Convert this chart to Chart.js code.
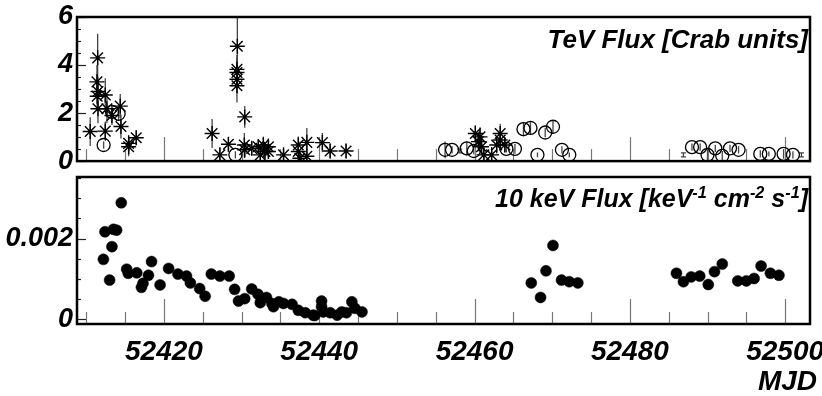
<!DOCTYPE html>
<html lang="en">
<head>
<meta charset="UTF-8">
<title>TeV and 10 keV flux vs MJD</title>
<script src="https://cdn.jsdelivr.net/npm/chart.js"></script>
<style>
  body { margin: 0; background: #fff; width: 822px; height: 396px; position: relative; overflow: hidden;
         font-family: "Liberation Sans", Arial, sans-serif; }
  .box { position: absolute; left: 0; width: 822px; }
  #topBox { top: 0; height: 170px; }
  #botBox { top: 170px; height: 226px; }
  .lbl { position: absolute; font-weight: bold; font-style: italic; white-space: nowrap; line-height: 1; color: #000; }
  .lbl sup { font-size: 65%; vertical-align: 0.55em; line-height: 0; }
</style>
</head>
<body>
<div class="box" id="topBox"><canvas id="tevChart"></canvas></div>
<div class="box" id="botBox"><canvas id="xrayChart"></canvas></div>
<div class="lbl" style="right:14px; top:26px; font-size:26px;">TeV Flux [Crab units]</div>
<div class="lbl" style="right:14px; top:186px; font-size:25px;">10 keV Flux [keV<sup>-1</sup> cm<sup>-2</sup> s<sup>-1</sup>]</div>
<div class="lbl" style="right:5px; top:367px; font-size:28px;">MJD</div>

<script>
// axis labels
const mjdLabels = [52420, 52440, 52460, 52480, 52500];
const tevLabels = [0, 2, 4, 6];
const xrayLabels = [0, 0.002];

// TeV flux, asterisks
const tevStarMjd = [52410.5, 52411.46, 52411.37, 52411.5, 52411.4, 52412.44, 52411.5, 52412.65, 52413.3, 52412.44, 52414.37, 52414.46, 52415.45, 52415.45, 52416.43,
  52426.2, 52427.2, 52428.3, 52429.45, 52429.4, 52429.4, 52429.4, 52429.4, 52430.4, 52430.35, 52430.4, 52431.3, 52432.15, 52432.8, 52433.0, 52433.45, 52433.45, 52432.4, 52435.4,
  52437.3, 52437.3, 52438.4, 52438.4, 52437.5, 52440.4, 52441.4, 52443.45,
  52460.1, 52460.7, 52460.5, 52460.9, 52461.2, 52462.2, 52463.3, 52463.3, 52462.85, 52463.9];
const tevStarFlux = [1.23, 4.3, 3.3, 2.9, 2.7, 2.75, 2.18, 2.18, 1.9, 1.25, 2.29, 1.44, 0.74, 0.6, 0.97,
  1.15, 0.26, 0.7, 4.78, 3.82, 3.69, 3.41, 3.14, 1.84, 0.67, 0.47, 0.53, 0.6, 0.67, 0.4, 0.4, 0.6, 0.26, 0.26,
  0.67, 0.4, 0.78, 0.2, 0.12, 0.77, 0.42, 0.42,
  1.15, 1.01, 0.81, 0.6, 0.26, 0.26, 1.15, 0.88, 0.67, 0.67];
const tevStarErr = [0.6, 1.0, 0.7, 0.6, 0.5, 0.7, 0.6, 0.6, 0.4, 0.4, 0.5, 0.5, 0.35, 0.4, 0.3,
  0.6, 0.3, 0.3, 1.5, 0.6, 0.6, 0.6, 0.7, 0.45, 0.5, 0.35, 0.3, 0.3, 0.35, 0.3, 0.3, 0.35, 0.3, 0.25,
  0.35, 0.3, 0.6, 0.2, 0.15, 0.4, 0.3, 0.3,
  0.35, 0.4, 0.4, 0.35, 0.3, 0.3, 0.4, 0.35, 0.35, 0.3];

// TeV flux, open circles
const tevCircleMjd = [52412.23, 52413.3, 52414.16, 52429.2, 52456.2, 52457.1, 52459.0, 52459.9, 52464.1, 52465.2,
  52466.3, 52467.2, 52468.1, 52469.1, 52470.1, 52471.25, 52472.2,
  52488.0, 52489.05, 52490.0, 52491.0, 52491.9, 52492.9, 52494.0, 52496.8, 52497.9, 52499.8, 52501.0];
const tevCircleFlux = [0.67, 2.05, 1.97, 0.26, 0.47, 0.47, 0.53, 0.42, 0.51, 0.51,
  1.33, 1.38, 0.26, 1.19, 1.43, 0.47, 0.26,
  0.58, 0.58, 0.26, 0.53, 0.22, 0.53, 0.47, 0.3, 0.3, 0.3, 0.26];
const tevCircleErr = [0.15, 0.3, 0.3, 0.15, 0.35, 0.15, 0.3, 0.15, 0.15, 0.2,
  0.3, 0.25, 0.1, 0.2, 0.25, 0.15, 0.1,
  0.15, 0.15, 0.25, 0.15, 0.2, 0.15, 0.15, 0.15, 0.1, 0.2, 0.15];

// TeV flux, points shown only by their error bar
const tevBarMjd = [52458.1, 52486.9, 52502.1];
const tevBarFlux = [0.42, 0.26, 0.26];
const tevBarErr = [0.08, 0.08, 0.08];

// 10 keV flux
const xrayMjd = [52412.2, 52412.4, 52413.0, 52413.3, 52413.5, 52413.9, 52414.5, 52415.2, 52415.4, 52416.5,
  52417.1, 52417.3, 52418.0, 52418.4, 52419.5, 52420.6, 52421.8, 52422.9, 52423.4, 52424.6,
  52425.3, 52426.1, 52427.2, 52428.4, 52429.1, 52429.6, 52430.4, 52431.3, 52432.1, 52432.4,
  52433.2, 52433.9, 52434.1, 52434.8, 52435.4, 52436.5, 52437.3, 52438.2, 52439.2, 52439.4,
  52440.3, 52440.3, 52440.5, 52441.4, 52442.3, 52442.9, 52443.5, 52444.2, 52444.6, 52445.5,
  52467.3, 52468.5, 52469.2, 52470.1, 52471.2, 52472.2, 52473.3,
  52486.0, 52486.9, 52487.9, 52489.0, 52490.1, 52490.9, 52491.9, 52493.9, 52495.0, 52496.0, 52496.9, 52498.1, 52499.2];
const xrayFlux = [1.485e-3, 2.17e-3, 0.97e-3, 1.80e-3, 2.23e-3, 2.21e-3, 2.89e-3, 1.24e-3, 1.14e-3, 1.15e-3,
  0.79e-3, 0.89e-3, 1.09e-3, 1.43e-3, 0.85e-3, 1.26e-3, 1.12e-3, 1.07e-3, 0.90e-3, 0.76e-3,
  0.57e-3, 1.12e-3, 1.07e-3, 1.07e-3, 0.74e-3, 0.45e-3, 0.51e-3, 0.75e-3, 0.62e-3, 0.41e-3,
  0.54e-3, 0.39e-3, 0.31e-3, 0.43e-3, 0.39e-3, 0.37e-3, 0.22e-3, 0.16e-3, 0.10e-3, 0.09e-3,
  0.45e-3, 0.31e-3, 0.18e-3, 0.16e-3, 0.10e-3, 0.18e-3, 0.16e-3, 0.43e-3, 0.27e-3, 0.18e-3,
  0.90e-3, 0.54e-3, 1.20e-3, 1.83e-3, 0.97e-3, 0.93e-3, 0.90e-3,
  1.14e-3, 0.93e-3, 1.05e-3, 1.07e-3, 0.86e-3, 1.18e-3, 1.37e-3, 0.95e-3, 0.95e-3, 1.01e-3, 1.32e-3, 1.14e-3, 1.09e-3];

const MJD_MIN = 52408.8, MJD_MAX = 52503.2;

function pts(xs, ys) { return xs.map((x, i) => ({ x: x, y: ys[i] })); }
function isMult(v, step) { const r = v / step; return Math.abs(r - Math.round(r)) < 1e-6; }

const labelFont = { family: 'Liberation Sans', style: 'italic', weight: 'bold', size: 27 };

// frame, inner ticks and error bars (ROOT-style panel)
function panel(cfg) {
  return {
    id: 'panel',
    beforeDatasetsDraw(chart) {
      const { ctx, chartArea: a, scales: { x, y } } = chart;
      ctx.save();
      ctx.beginPath();
      ctx.rect(a.left, a.top, a.right - a.left, a.bottom - a.top);
      ctx.clip();
      chart.data.datasets.forEach(ds => {
        if (!ds.errs) return;
        ctx.strokeStyle = '#444';
        ctx.lineWidth = 1.3;
        ds.data.forEach((p, i) => {
          const px = x.getPixelForValue(p.x);
          const y1 = y.getPixelForValue(p.y - ds.errs[i]);
          const y2 = y.getPixelForValue(p.y + ds.errs[i]);
          ctx.beginPath();
          ctx.moveTo(px, y1); ctx.lineTo(px, y2);
          if (ds.caps) {
            ctx.moveTo(px - 2.5, y1); ctx.lineTo(px + 2.5, y1);
            ctx.moveTo(px - 2.5, y2); ctx.lineTo(px + 2.5, y2);
          }
          ctx.stroke();
        });
      });
      // x ticks, drawn up from the bottom edge
      ctx.strokeStyle = '#777';
      ctx.lineWidth = 1.2;
      for (let v = Math.ceil(x.min / cfg.xStep) * cfg.xStep; v <= x.max; v += cfg.xStep) {
        const len = isMult(v, 20) ? cfg.tall : cfg.short;
        const px = Math.round(x.getPixelForValue(v)) + 0.5;
        ctx.beginPath(); ctx.moveTo(px, a.bottom); ctx.lineTo(px, a.bottom - len); ctx.stroke();
      }
      ctx.restore();
    },
    afterDraw(chart) {
      const { ctx, chartArea: a, scales: { y } } = chart;
      ctx.save();
      ctx.strokeStyle = '#222';
      ctx.lineWidth = 1.2;
      const n = Math.floor(y.max / cfg.yStep + 1e-6);
      for (let k = Math.ceil(y.min / cfg.yStep - 1e-6); k <= n; k++) {
        const v = k * cfg.yStep;
        const len = cfg.yMajor.some(m => Math.abs(m - v) < cfg.yStep / 100) ? 9 : 4;
        const py = Math.round(y.getPixelForValue(v)) + 0.5;
        ctx.beginPath(); ctx.moveTo(a.left, py); ctx.lineTo(a.left + len, py); ctx.stroke();
      }
      ctx.strokeStyle = '#000';
      ctx.lineWidth = 2.5;
      ctx.strokeRect(a.left, a.top, a.right - a.left, a.bottom - a.top);
      ctx.restore();
    }
  };
}

function yAxis(min, max, labels, fmt) {
  return {
    type: 'linear', min: min, max: max,
    afterBuildTicks: s => { s.ticks = labels.map(v => ({ value: v })); },
    afterFit: s => { s.width = 77; s.paddingTop = 0; s.paddingBottom = 0; },
    grid: { display: false, drawTicks: false },
    border: { display: false },
    ticks: { font: labelFont, color: '#000', padding: 4, callback: fmt }
  };
}

new Chart(document.getElementById('tevChart'), {
  type: 'scatter',
  data: {
    datasets: [
      { data: pts(tevBarMjd, tevBarFlux), errs: tevBarErr, caps: true, pointRadius: 0 },
      { data: pts(tevCircleMjd, tevCircleFlux), errs: tevCircleErr, pointStyle: 'circle', pointRadius: 6.5,
        backgroundColor: 'rgba(0,0,0,0)', borderColor: '#000', borderWidth: 1.3 },
      { data: pts(tevStarMjd, tevStarFlux), errs: tevStarErr, pointStyle: 'star', pointRadius: 7.5,
        backgroundColor: '#000', borderColor: '#000', borderWidth: 1.4 }
    ]
  },
  options: {
    responsive: true, maintainAspectRatio: false, animation: false,
    layout: { padding: { top: 17, right: 12, bottom: 7, left: 0 } },
    plugins: { legend: { display: false }, tooltip: { enabled: false } },
    scales: {
      x: { type: 'linear', min: MJD_MIN, max: MJD_MAX, display: false },
      y: yAxis(0, 6, tevLabels, v => String(v))
    }
  },
  plugins: [panel({ xStep: 5, tall: 24, short: 12, yStep: 0.5, yMajor: tevLabels })]
});

new Chart(document.getElementById('xrayChart'), {
  type: 'scatter',
  data: {
    datasets: [
      { data: pts(xrayMjd, xrayFlux), pointStyle: 'circle', pointRadius: 5.5,
        backgroundColor: '#000', borderColor: '#000', borderWidth: 0.5 }
    ]
  },
  options: {
    responsive: true, maintainAspectRatio: false, animation: false,
    layout: { padding: { top: 7, right: 12, bottom: 0, left: 0 } },
    plugins: { legend: { display: false }, tooltip: { enabled: false } },
    scales: {
      x: {
        type: 'linear', min: MJD_MIN, max: MJD_MAX,
        afterBuildTicks: s => { s.ticks = mjdLabels.map(v => ({ value: v })); },
        afterFit: s => { s.height = 72; s.paddingLeft = 0; s.paddingRight = 0; },
        grid: { display: false, drawTicks: false },
        border: { display: false },
        ticks: { font: Object.assign({}, labelFont, { size: 28 }), color: '#000', padding: 11,
                 maxRotation: 0, autoSkip: false, callback: v => String(v) }
      },
      y: yAxis(-0.00012, 0.00353, xrayLabels, v => (v === 0 ? '0' : String(v)))
    }
  },
  plugins: [panel({ xStep: 5, tall: 25, short: 12, yStep: 0.0005, yMajor: xrayLabels })]
});
</script>
</body>
</html>
